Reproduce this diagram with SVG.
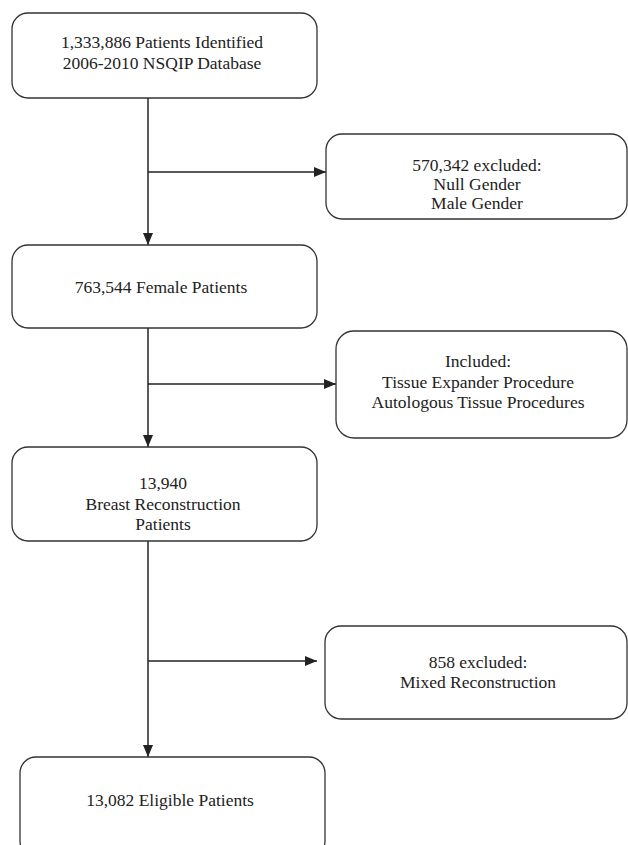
<svg xmlns="http://www.w3.org/2000/svg" width="628" height="845" viewBox="0 0 628 845">
<style>
.box{fill:#fff;stroke:#333;stroke-width:1.3}
.t{font-family:"Liberation Serif","Times New Roman",serif;font-size:17.5px;fill:#222;text-anchor:middle}
.c{fill:none;stroke:#222;stroke-width:1.5}
</style>
<defs>
<marker id="ah" markerUnits="userSpaceOnUse" markerWidth="12" markerHeight="12" viewBox="0 0 12 12" refX="12" refY="6" orient="auto">
<path d="M0,1 L12,6 L0,11 Z" fill="#222"/>
</marker>
</defs>
<rect width="628" height="845" fill="#fff"/>
<g id="connectors">
<line class="c" x1="148" y1="98" x2="148" y2="245" marker-end="url(#ah)"/>
<line class="c" x1="148" y1="172" x2="326" y2="172" marker-end="url(#ah)"/>
<line class="c" x1="148" y1="328" x2="148" y2="447" marker-end="url(#ah)"/>
<line class="c" x1="148" y1="384" x2="336" y2="384" marker-end="url(#ah)"/>
<line class="c" x1="148" y1="541" x2="148" y2="757" marker-end="url(#ah)"/>
<line class="c" x1="148" y1="661" x2="317" y2="661" marker-end="url(#ah)"/>
</g>
<g id="n1">
<rect class="box" x="12" y="13" width="305" height="85" rx="16"/>
<text class="t" x="162" y="48">1,333,886 Patients Identified</text>
<text class="t" x="162" y="69">2006-2010 NSQIP Database</text>
</g>
<g id="n2">
<rect class="box" x="326" y="134" width="301" height="85" rx="16"/>
<text class="t" x="477" y="171">570,342 excluded:</text>
<text class="t" x="477" y="190">Null Gender</text>
<text class="t" x="477" y="209">Male Gender</text>
</g>
<g id="n3">
<rect class="box" x="12" y="245" width="305" height="83" rx="16"/>
<text class="t" x="161" y="293">763,544 Female Patients</text>
</g>
<g id="n4">
<rect class="box" x="336" y="331" width="291" height="107" rx="18"/>
<text class="t" x="478" y="367">Included:</text>
<text class="t" x="478" y="388">Tissue Expander Procedure</text>
<text class="t" x="478" y="408">Autologous Tissue Procedures</text>
</g>
<g id="n5">
<rect class="box" x="12" y="447" width="305" height="94" rx="16"/>
<text class="t" x="163" y="489">13,940</text>
<text class="t" x="163" y="510">Breast Reconstruction</text>
<text class="t" x="163" y="530">Patients</text>
</g>
<g id="n6">
<rect class="box" x="325" y="626" width="302" height="93" rx="16"/>
<text class="t" x="478" y="668">858 excluded:</text>
<text class="t" x="478" y="688">Mixed Reconstruction</text>
</g>
<g id="n7">
<rect class="box" x="20" y="757" width="305" height="100" rx="16"/>
<text class="t" x="170" y="806">13,082 Eligible Patients</text>
</g>
</svg>
